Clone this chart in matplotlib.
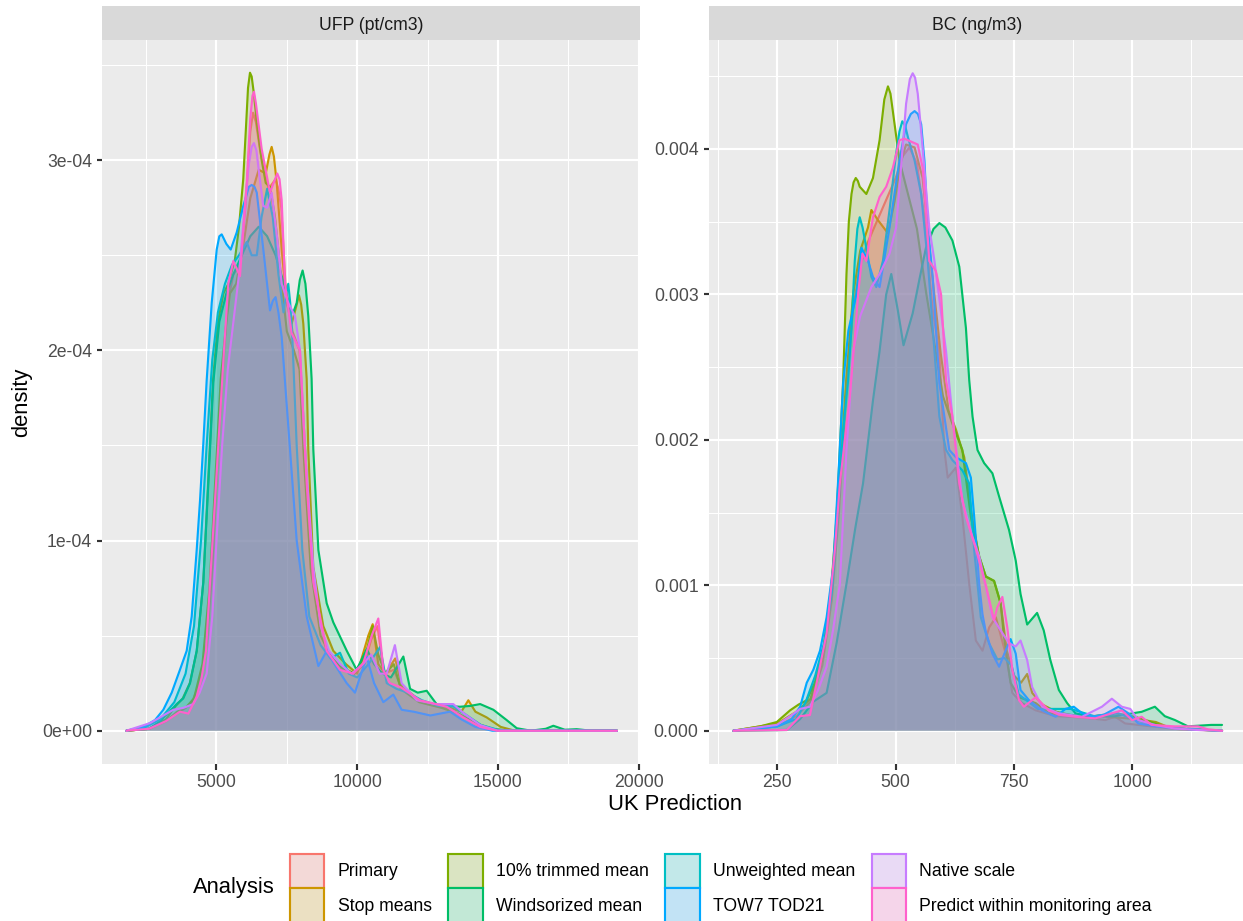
import matplotlib
matplotlib.use('Agg')
import matplotlib.pyplot as plt
from matplotlib.patches import Patch
from matplotlib.ticker import FixedLocator

plt.rcParams['font.family'] = ['Liberation Sans', 'DejaVu Sans']

analyses = ['Primary', 'Stop means', '10% trimmed mean', 'Windsorized mean',
            'Unweighted mean', 'TOW7 TOD21', 'Native scale',
            'Predict within monitoring area']
colors = ['#F8766D', '#CD9600', '#7CAE00', '#00BE67',
          '#00BFC4', '#00A9FF', '#C77CFF', '#FF61CC']

# UFP (pt/cm3): (prediction, density in 1e-4)
UFP_SCALE = 1e-4
ufp_primary = [(1800, 0), (2600, 0.01), (3200, 0.05), (3700, 0.1), (4100, 0.14), (4400, 0.25),
               (4650, 0.45), (4850, 0.85), (5000, 1.3), (5200, 1.85), (5400, 2.25), (5600, 2.4),
               (5850, 2.45), (6050, 2.8), (6200, 3.15), (6300, 3.25), (6400, 3.2), (6550, 3.05),
               (6850, 2.85), (7000, 2.88), (7100, 2.9), (7200, 2.85), (7300, 2.75), (7450, 2.35),
               (7700, 2.1), (7950, 2.0), (8200, 1.35), (8450, 0.8), (8900, 0.42), (9400, 0.33),
               (9900, 0.3), (10250, 0.35), (10500, 0.48), (10720, 0.55), (10950, 0.3),
               (11300, 0.32), (11500, 0.25), (12200, 0.16), (13200, 0.12), (13800, 0.07),
               (14400, 0.02), (15000, 0), (19230, 0)]
ufp_stop = [(1800, 0), (2600, 0.01), (3200, 0.05), (3600, 0.1), (3900, 0.12), (4200, 0.17),
            (4500, 0.35), (4750, 0.75), (4950, 1.3), (5150, 1.85), (5350, 2.15), (5480, 2.3),
            (5700, 2.35), (5950, 2.55), (6200, 2.8), (6500, 2.95), (6750, 2.93), (6880, 3.03),
            (6960, 3.07), (7040, 3.02), (7140, 2.88), (7317, 2.53), (7495, 2.25), (7670, 2.14),
            (7850, 2.24), (7930, 2.29), (8010, 2.24), (8085, 2.14), (8205, 1.85), (8262, 1.48),
            (8440, 0.86), (8795, 0.55), (9150, 0.42), (9600, 0.35), (10000, 0.3), (10395, 0.5),
            (10550, 0.56), (10750, 0.35), (11000, 0.3), (11350, 0.38), (11600, 0.22),
            (12200, 0.16), (12800, 0.13), (13300, 0.12), (13700, 0.1), (13950, 0.16),
            (14200, 0.1), (14600, 0.07), (15100, 0.02), (15600, 0), (19230, 0)]
ufp_trimmed = [(1800, 0), (2600, 0.01), (3200, 0.06), (3550, 0.13), (3800, 0.17), (4050, 0.25),
               (4300, 0.42), (4530, 0.78), (4700, 1.3), (4880, 1.85), (5050, 2.15), (5250, 2.3),
               (5420, 2.35), (5657, 2.48), (5800, 2.65), (5950, 2.9), (6050, 3.18), (6120, 3.38),
               (6190, 3.46), (6250, 3.44), (6320, 3.36), (6430, 3.2), (6605, 3.0), (6750, 2.88),
               (6900, 2.86), (7079, 2.7), (7317, 2.35), (7500, 2.1), (7750, 2.0), (7950, 1.9),
               (8100, 1.45), (8350, 0.85), (8700, 0.5), (9100, 0.38), (9500, 0.33), (9900, 0.3),
               (10300, 0.4), (10550, 0.55), (10750, 0.4), (11000, 0.3), (11300, 0.35),
               (11550, 0.22), (12200, 0.15), (13000, 0.12), (13600, 0.09), (14200, 0.04),
               (14800, 0.01), (15400, 0), (19230, 0)]
ufp_winsor = [(1800, 0), (2600, 0.01), (3000, 0.05), (3585, 0.14), (3820, 0.17), (4060, 0.25),
              (4296, 0.42), (4531, 0.78), (4710, 1.3), (4886, 1.83), (5100, 2.15), (5350, 2.3),
              (5600, 2.4), (5900, 2.5), (6200, 2.6), (6500, 2.65), (6800, 2.6), (7100, 2.5),
              (7400, 2.35), (7600, 2.22), (7730, 2.2), (7850, 2.25), (7960, 2.37), (8060, 2.42),
              (8160, 2.35), (8262, 2.18), (8380, 1.85), (8440, 1.48), (8620, 0.95), (8916, 0.67),
              (9150, 0.57), (9630, 0.42), (9980, 0.32), (10340, 0.43), (10600, 0.35),
              (10900, 0.3), (11200, 0.28), (11640, 0.39), (11880, 0.22), (12150, 0.2),
              (12470, 0.21), (12820, 0.14), (13180, 0.13), (13655, 0.126), (14000, 0.13),
              (14370, 0.14), (14840, 0.11), (15310, 0.056), (15670, 0.013), (16170, 0),
              (16700, 0.01), (16970, 0.026), (17380, 0.005), (17800, 0.008), (18300, 0),
              (19230, 0)]
ufp_unweighted = [(1800, 0), (2500, 0.02), (3000, 0.06), (3500, 0.15), (3900, 0.3), (4200, 0.55),
                  (4450, 1.0), (4650, 1.5), (4850, 1.95), (5050, 2.2), (5300, 2.35), (5550, 2.45),
                  (5800, 2.5), (6073, 2.57), (6250, 2.5), (6430, 2.5), (6600, 2.7), (6800, 2.85),
                  (7000, 2.7), (7200, 2.4), (7380, 2.2), (7480, 2.3), (7550, 2.35), (7620, 2.25),
                  (7700, 2.05), (7850, 1.5), (8050, 0.95), (8300, 0.6), (8700, 0.45), (9050, 0.38),
                  (9389, 0.41), (9700, 0.3), (10000, 0.28), (10400, 0.35), (10814, 0.44),
                  (11050, 0.25), (11400, 0.22), (11800, 0.2), (12300, 0.16), (12900, 0.13),
                  (13400, 0.13), (13900, 0.08), (14400, 0.03), (15000, 0.005), (15500, 0),
                  (19230, 0)]
ufp_tow7 = [(1800, 0), (2400, 0.02), (2815, 0.056), (3110, 0.11), (3408, 0.2), (3700, 0.32),
            (3940, 0.42), (4118, 0.6), (4296, 0.95), (4414, 1.21), (4531, 1.51), (4650, 1.84),
            (4830, 2.25), (5007, 2.53), (5100, 2.6), (5185, 2.61), (5350, 2.56), (5505, 2.53),
            (5718, 2.62), (5953, 2.76), (6150, 2.86), (6250, 2.87), (6350, 2.86), (6430, 2.83),
            (6664, 2.53), (6901, 2.21), (7000, 2.26), (7100, 2.28), (7200, 2.2), (7317, 2.07),
            (7612, 1.48), (7850, 1.0), (8205, 0.6), (8620, 0.34), (8916, 0.42), (9150, 0.36),
            (9627, 0.25), (9920, 0.2), (10337, 0.39), (10600, 0.25), (10928, 0.15),
            (11283, 0.19), (11580, 0.11), (12000, 0.1), (12600, 0.08), (13300, 0.1),
            (13700, 0.06), (14200, 0.02), (14800, 0), (19230, 0)]
ufp_native = [(1800, 0), (2637, 0.04), (3465, 0.11), (3820, 0.12), (4175, 0.14), (4400, 0.2),
              (4650, 0.3), (4850, 0.6), (5000, 1.0), (5200, 1.5), (5400, 1.9), (5600, 2.15),
              (5800, 2.4), (6000, 2.75), (6150, 2.98), (6250, 3.07), (6330, 3.09), (6420, 3.05),
              (6500, 2.95), (6660, 2.76), (6800, 2.75), (6960, 2.83), (7150, 2.6), (7317, 2.35),
              (7550, 2.25), (7790, 2.18), (7967, 2.0), (8145, 1.48), (8440, 0.86), (8700, 0.55),
              (9000, 0.42), (9400, 0.35), (9800, 0.3), (10200, 0.35), (10500, 0.4), (10800, 0.3),
              (11050, 0.3), (11340, 0.45), (11580, 0.25), (12116, 0.16), (12800, 0.14),
              (13415, 0.14), (13800, 0.09), (14370, 0.03), (15000, 0), (19230, 0)]
ufp_predict = [(1800, 0), (2600, 0.01), (3200, 0.05), (3700, 0.1), (4000, 0.09), (4296, 0.18),
               (4473, 0.28), (4627, 0.42), (4770, 0.78), (4947, 1.21), (5124, 1.65), (5266, 2.0),
               (5420, 2.35), (5597, 2.47), (5835, 2.39), (6073, 2.88), (6200, 3.22), (6280, 3.34),
               (6333, 3.36), (6400, 3.3), (6605, 3.06), (6901, 2.83), (7080, 2.9), (7160, 2.93),
               (7240, 2.9), (7317, 2.79), (7435, 2.35), (7670, 2.09), (7967, 2.0), (8205, 1.3),
               (8440, 0.78), (8916, 0.42), (9389, 0.32), (9860, 0.3), (10217, 0.355),
               (10515, 0.5), (10750, 0.59), (10930, 0.32), (11160, 0.25), (11525, 0.23),
               (12236, 0.16), (13180, 0.126), (13770, 0.07), (14370, 0.02), (14960, 0), (19230, 0)]

# BC (ng/m3): (prediction, density in 1e-3)
BC_SCALE = 1e-3
bc_primary = [(157, 0), (250, 0.03), (290, 0.1), (320, 0.2), (345, 0.45), (365, 0.9), (380, 1.5),
              (395, 2.3), (410, 2.9), (425, 3.2), (440, 3.35), (460, 3.5), (480, 3.65), (500, 3.8),
              (515, 3.95), (529, 4.01), (545, 3.9), (560, 3.55), (578, 2.9), (592, 2.61),
              (603, 1.93), (610, 1.74), (627.5, 1.81), (641, 1.47), (655.5, 1.01), (669.5, 0.62),
              (683.6, 0.55), (697.6, 0.71), (711.7, 0.78), (732.5, 0.53), (746.6, 0.26),
              (767, 0.19), (796, 0.14), (838, 0.1), (900, 0.09), (943, 0.073), (964, 0.096),
              (985, 0.05), (1040, 0.03), (1100, 0.01), (1190, 0)]
bc_stop = [(157, 0), (250, 0.05), (290, 0.13), (320, 0.22), (345, 0.5), (365, 1.0), (380, 1.6),
           (395, 2.4), (410, 3.0), (425, 3.3), (441.5, 3.46), (448.6, 3.58), (462.6, 3.51),
           (483.7, 3.42), (497.7, 3.64), (510, 3.9), (522, 4.03), (540, 4.01), (557, 3.8),
           (575, 3.2), (595, 2.6), (612, 2.2), (627.5, 2.07), (645, 1.88), (660, 1.5), (676, 1.2),
           (690.6, 1.06), (708, 1.03), (722, 0.875), (735, 0.55), (750, 0.38), (765, 0.33),
           (778, 0.39), (788.6, 0.26), (810, 0.18), (840, 0.13), (880, 0.1), (930, 0.1),
           (970, 0.09), (1010, 0.08), (1050, 0.06), (1080, 0.02), (1120, 0.01), (1190, 0)]
bc_trimmed = [(157, 0), (213.6, 0.03), (248.7, 0.06), (276.7, 0.14), (294.8, 0.18), (312, 0.21),
              (329, 0.33), (347, 0.55), (364.5, 1.01), (375, 1.47), (382, 1.93), (389, 2.41),
              (396, 3.14), (401, 3.5), (406.6, 3.69), (411, 3.77), (415.6, 3.8), (420, 3.78),
              (424, 3.74), (438, 3.69), (452, 3.8), (466, 4.06), (476, 4.34), (483.7, 4.43),
              (489, 4.38), (494, 4.26), (508, 3.92), (526, 3.69), (545, 3.45), (565, 3.0),
              (585, 2.6), (600, 2.3), (620, 2.11), (641, 1.93), (659, 1.47), (676.6, 1.2),
              (690.6, 1.06), (708, 1.03), (722, 0.875), (729, 0.646), (736, 0.486), (743, 0.33),
              (760.8, 0.23), (796, 0.19), (824, 0.12), (866, 0.11), (908, 0.096), (964, 0.12),
              (1006, 0.096), (1048, 0.05), (1069, 0.027), (1118, 0.01), (1190, 0)]
bc_winsor = [(157, 0), (270, 0.005), (298, 0.08), (326, 0.2), (354, 0.26), (375, 0.6), (396, 1.01),
             (415, 1.4), (431, 1.7), (452, 2.27), (466, 2.61), (480, 3.0), (490.7, 3.14),
             (504.6, 2.89), (516.6, 2.65), (536, 2.87), (550, 3.1), (564, 3.32), (580, 3.45),
             (592.4, 3.49), (605, 3.46), (620, 3.37), (634.5, 3.19), (648.5, 2.77), (655.5, 2.41),
             (662.5, 2.16), (673, 1.93), (687, 1.84), (704.5, 1.77), (718.7, 1.61), (739.7, 1.38),
             (753.8, 1.17), (764, 0.94), (778, 0.73), (799, 0.81), (813, 0.69), (827, 0.486),
             (845, 0.28), (862.5, 0.19), (880, 0.12), (908, 0.1), (964, 0.1), (1020, 0.13),
             (1048, 0.165), (1069, 0.1), (1090, 0.074), (1118, 0.03), (1167, 0.04), (1190, 0.04)]
bc_unweighted = [(157, 0), (250, 0.03), (290, 0.08), (310, 0.2), (330, 0.38), (350, 0.62),
                 (365, 0.95), (378, 1.5), (390, 2.1), (399.4, 2.41), (406.6, 2.77), (413.5, 3.23),
                 (419, 3.45), (424, 3.53), (430, 3.46), (438, 3.32), (448.6, 3.12), (459, 3.05),
                 (473, 3.23), (487, 3.58), (501, 3.97), (508, 4.12), (514, 4.19), (520, 4.16),
                 (526, 4.08), (540, 3.92), (553.9, 3.69), (567.8, 3.23), (578.3, 2.77),
                 (592.4, 2.16), (606.5, 1.93), (620, 1.86), (641, 1.79), (655.5, 1.7), (666, 1.24),
                 (680, 0.78), (697.6, 0.6), (715, 0.49), (730, 0.5), (745, 0.45), (760, 0.25),
                 (800, 0.15), (870, 0.15), (920, 0.1), (970, 0.12), (1010, 0.07), (1060, 0.03),
                 (1120, 0.01), (1190, 0)]
bc_tow7 = [(157, 0), (250, 0.03), (280, 0.08), (298, 0.165), (312, 0.33), (326, 0.42), (340, 0.55),
           (354, 0.78), (368, 1.13), (378, 1.7), (389, 2.39), (400, 2.75), (417, 3.0),
           (427.6, 3.32), (441.5, 3.23), (452, 3.12), (466, 3.05), (487, 3.46), (508, 3.92),
           (522, 4.17), (532, 4.24), (540, 4.26), (547, 4.24), (553.9, 4.17), (560.8, 3.92),
           (567.8, 3.46), (578.3, 3.12), (592.4, 2.39), (603, 2.16), (613.4, 1.93),
           (627.5, 1.88), (648.5, 1.84), (659, 1.74), (666, 1.47), (676.6, 1.01), (683.6, 0.8),
           (690.6, 0.68), (704.5, 0.53), (718.7, 0.44), (736, 0.58), (743, 0.63), (753.8, 0.53),
           (764, 0.28), (781.8, 0.21), (809.7, 0.14), (838, 0.096), (859, 0.15), (876.5, 0.165),
           (894, 0.12), (915, 0.096), (940, 0.11), (971, 0.165), (992, 0.12), (1013, 0.05),
           (1050, 0.03), (1100, 0.015), (1190, 0)]
bc_native = [(157, 0), (248.7, 0.04), (276.7, 0.1), (298, 0.15), (318.8, 0.165), (336, 0.28),
             (354, 0.44), (368, 0.7), (382, 1.01), (396, 1.93), (410, 2.61), (425, 2.85),
             (448.6, 3.05), (466, 3.14), (487, 3.28), (501, 3.46), (512, 3.9), (522, 4.31),
             (530, 4.48), (536, 4.52), (541, 4.49), (546.7, 4.38), (557, 4.01), (571, 3.46),
             (582, 3.23), (595, 2.9), (606.5, 2.61), (620, 2.16), (641, 1.58), (662.5, 1.33),
             (676.6, 1.2), (690, 1.0), (704.5, 0.78), (720, 0.7), (740, 0.6), (753.8, 0.58),
             (764, 0.62), (778, 0.486), (788.6, 0.3), (809.7, 0.165), (845, 0.12), (894, 0.096),
             (936, 0.165), (957, 0.22), (978, 0.165), (996, 0.15), (1013, 0.073), (1048, 0.04),
             (1090, 0.015), (1139, 0.005), (1190, 0)]
bc_predict = [(157, 0), (270, 0.005), (298, 0.1), (318.8, 0.108), (333, 0.33), (354, 0.67),
              (371.4, 1.24), (382, 1.7), (392.5, 2.0), (403, 2.3), (413.5, 2.7), (420.6, 3.0),
              (429.7, 3.28), (438, 3.23), (452, 3.53), (466, 3.67), (480, 3.74), (494, 3.87),
              (508, 4.06), (518.7, 4.07), (532.8, 4.05), (546.7, 4.03), (557, 3.87), (564, 3.58),
              (571, 3.23), (585, 3.16), (596, 3.0), (606.5, 2.41), (620, 2.16), (634.5, 1.7),
              (648.5, 1.47), (669.5, 1.25), (690.6, 1.0), (708, 0.76), (715, 0.85),
              (725.6, 0.92), (736, 0.71), (746.6, 0.42), (760.8, 0.21), (771, 0.165), (796, 0.23),
              (824, 0.14), (845, 0.11), (880, 0.096), (922, 0.085), (957, 0.12), (978, 0.14),
              (1000, 0.073), (1020, 0.096), (1041, 0.04), (1090, 0.03), (1139, 0.03),
              (1160, 0.01), (1190, 0)]

ufp_curves = [ufp_primary, ufp_stop, ufp_trimmed, ufp_winsor,
              ufp_unweighted, ufp_tow7, ufp_native, ufp_predict]
bc_curves = [bc_primary, bc_stop, bc_trimmed, bc_winsor,
             bc_unweighted, bc_tow7, bc_native, bc_predict]

W, H = 1243, 921
DPI = 144
LW = 1.07


def px_box(x0, y0, x1, y1):
    return [x0 / W, 1 - y1 / H, (x1 - x0) / W, (y1 - y0) / H]


def draw_density(ax, curves, scale):
    # each group: translucent fill first, then its outline on top
    for i, (pts, col) in enumerate(zip(curves, colors)):
        xs = [p[0] for p in pts]
        ys = [p[1] * scale for p in pts]
        ax.fill_between(xs, 0, ys, facecolor=col, alpha=0.2, lw=0, zorder=2 + 2 * i)
        ax.plot(xs, ys, color=col, lw=LW, zorder=3 + 2 * i,
                solid_joinstyle='round', solid_capstyle='round')


def style_axes(ax, xmaj, xmin, ymaj, ymin, ylabels):
    ax.set_facecolor('#EBEBEB')
    for s in ax.spines.values():
        s.set_visible(False)
    ax.set_xticks(xmaj)
    ax.set_xticklabels([str(v) for v in xmaj])
    ax.set_yticks(ymaj)
    ax.set_yticklabels(ylabels)
    ax.xaxis.set_minor_locator(FixedLocator(xmin))
    ax.yaxis.set_minor_locator(FixedLocator(ymin))
    ax.grid(which='major', color='white', lw=LW, zorder=0)
    ax.grid(which='minor', color='white', lw=LW / 2, zorder=0)
    ax.set_axisbelow(True)
    ax.tick_params(which='major', length=2.75, width=LW, color='#333333',
                   labelsize=8.8, labelcolor='#4D4D4D', pad=2.2)
    ax.tick_params(which='minor', length=0)


def add_strip(x0, x1, label):
    sax = fig.add_axes(px_box(x0, 5.5, x1, 40.4))
    sax.set_facecolor('#D9D9D9')
    sax.set_xticks([])
    sax.set_yticks([])
    for s in sax.spines.values():
        s.set_visible(False)
    sax.text(0.5, 0.44, label, ha='center', va='center', fontsize=8.8,
             color='#1A1A1A', transform=sax.transAxes)


fig = plt.figure(figsize=(W / DPI, H / DPI), dpi=DPI)

ax1 = fig.add_axes(px_box(102, 40.4, 640, 763.6))
draw_density(ax1, ufp_curves, UFP_SCALE)
ax1.set_xlim(931, 20050)
ax1.set_ylim(-1.73e-5, 3.63e-4)
style_axes(ax1, [5000, 10000, 15000, 20000], [2500, 7500, 12500, 17500],
           [0, 1e-4, 2e-4, 3e-4], [0.5e-4, 1.5e-4, 2.5e-4, 3.5e-4],
           ['0e+00', '1e-04', '2e-04', '3e-04'])

ax2 = fig.add_axes(px_box(708.5, 40.4, 1246.5, 763.6))
draw_density(ax2, bc_curves, BC_SCALE)
ax2.set_xlim(104.3, 1241.7)
ax2.set_ylim(-0.000226, 0.004746)
style_axes(ax2, [250, 500, 750, 1000], [125, 375, 625, 875, 1125],
           [0, 0.001, 0.002, 0.003, 0.004],
           [0.0005, 0.0015, 0.0025, 0.0035, 0.0045],
           ['0.000', '0.001', '0.002', '0.003', '0.004'])

add_strip(102, 640, 'UFP (pt/cm3)')
add_strip(708.5, 1246.5, 'BC (ng/m3)')

fig.text(675 / W, 1 - 805 / H, 'UK Prediction', ha='center', va='center', fontsize=11)
fig.text(22 / W, 1 - 402 / H, 'density', ha='center', va='center', fontsize=11, rotation=90)

# legend at the bottom, title to the left of the keys
key_bg = 0.949
handles = []
for col in colors:
    rgb = matplotlib.colors.to_rgb(col)
    face = tuple(0.2 * c + 0.8 * key_bg for c in rgb)
    handles.append(Patch(facecolor=face, edgecolor=col, lw=LW))
fig.legend(handles, analyses, ncol=4, loc='lower left', bbox_to_anchor=(290 / W, -2 / H),
           frameon=False, fontsize=8.8, handlelength=1.96, handleheight=2.644,
           labelspacing=0, handletextpad=0.74, columnspacing=0.95, borderpad=0,
           borderaxespad=0)
fig.text(193 / W, 1 - 888 / H, 'Analysis', ha='left', va='center', fontsize=11)

fig.savefig('out.png', dpi=DPI)
